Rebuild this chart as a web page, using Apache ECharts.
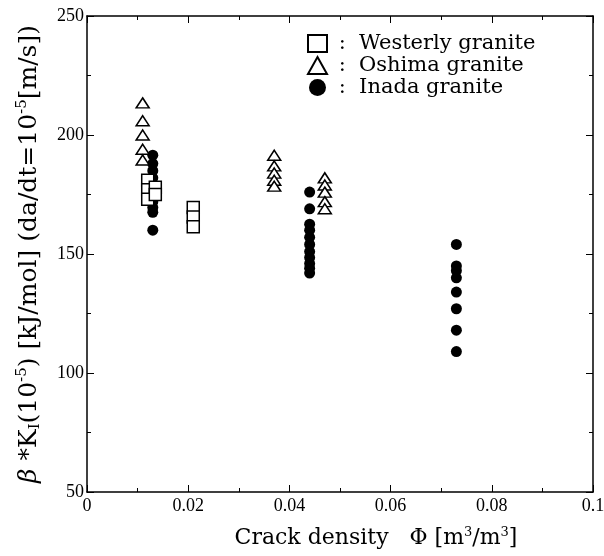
<!DOCTYPE html>
<html>
<head>
<meta charset="utf-8">
<script src="https://cdn.jsdelivr.net/npm/echarts@6/dist/echarts.min.js"></script>
<style>
html, body { margin: 0; padding: 0; background: #fff; }
#chart { width: 604px; height: 556px; }
</style>
</head>
<body>
<div id="chart"></div>
<script>
// crack density / activation value pairs
var westerly = [
    [0.012, 181], [0.012, 177], [0.012, 173],
    [0.0135, 178], [0.0135, 175],
    [0.021, 169.5], [0.021, 165.5], [0.021, 161.5]
];
var oshima = [
    [0.011, 213.5], [0.011, 206], [0.011, 200], [0.011, 194], [0.011, 189.5],
    [0.037, 191.5], [0.037, 187], [0.037, 184], [0.037, 181], [0.037, 178.5],
    [0.047, 182], [0.047, 179], [0.047, 176], [0.047, 172], [0.047, 169]
];
var inada = [
    [0.013, 191.5], [0.013, 188], [0.013, 185], [0.013, 182], [0.013, 179], [0.013, 176],
    [0.013, 174], [0.013, 172], [0.013, 169.5], [0.013, 167.5], [0.013, 160],
    [0.044, 176], [0.044, 169], [0.044, 162.5], [0.044, 160], [0.044, 157], [0.044, 154],
    [0.044, 151], [0.044, 148.5], [0.044, 146], [0.044, 144], [0.044, 142],
    [0.073, 154], [0.073, 145], [0.073, 143], [0.073, 140], [0.073, 134],
    [0.073, 127], [0.073, 118], [0.073, 109]
];
var legendNames = ['Westerly granite', 'Oshima granite', 'Inada granite'];

var serif = 'Liberation Serif';
var wide = 'DejaVu Serif';
var myChart = echarts.init(document.getElementById('chart'));

var frameTick = { show: true, inside: true, length: 7, lineStyle: { color: '#000', width: 1 } };
var frameMinor = { show: true, splitNumber: 2, length: 4, lineStyle: { color: '#000', width: 1 } };
var frameLine = { show: true, onZero: false, lineStyle: { color: '#000', width: 1.5 } };

var option = {
    animation: false,
    backgroundColor: '#fff',
    grid: { left: 87, right: 11, top: 16, bottom: 64, outerBoundsMode: 'none', containLabel: false },
    legend: {
        orient: 'vertical',
        left: 302,
        top: 28,
        itemGap: 1,
        itemWidth: 19,
        itemHeight: 17,
        data: legendNames,
        formatter: function (name) { return ' :  ' + name; },
        textStyle: { fontFamily: wide, fontSize: 21, color: '#000' }
    },
    xAxis: [{
        type: 'value',
        min: 0,
        max: 0.1,
        interval: 0.02,
        name: 'Crack density   Φ [m{sup|3}/m{sup|3}]',
        nameLocation: 'middle',
        nameGap: 34,
        nameTextStyle: {
            fontFamily: wide, fontSize: 22, color: '#000', padding: [0, 0, 0, 72],
            rich: { sup: { fontFamily: wide, fontSize: 13, verticalAlign: 'top', padding: [0, 0, 12, 0] } }
        },
        axisLine: frameLine,
        axisTick: frameTick,
        minorTick: frameMinor,
        splitLine: { show: false },
        axisLabel: {
            fontFamily: serif, fontSize: 18, color: '#000', margin: 5,
            formatter: function (v) { return v === 0 ? '0' : String(+v.toFixed(2)); }
        }
    }, {
        type: 'value',
        position: 'top',
        min: 0,
        max: 0.1,
        interval: 0.02,
        axisLine: frameLine,
        axisTick: frameTick,
        minorTick: frameMinor,
        splitLine: { show: false },
        axisLabel: { show: false }
    }],
    yAxis: [{
        type: 'value',
        min: 50,
        max: 250,
        interval: 50,
        name: '{it|β} *K{sub|I}(10{sup|-5}) [kJ/mol] (da/dt=10{sup|-5}[m/s])',
        nameLocation: 'middle',
        nameGap: 44,
        nameTextStyle: {
            fontFamily: wide, fontSize: 25, color: '#000',
            rich: {
                it: { fontFamily: wide, fontSize: 25, fontStyle: 'italic' },
                sup: { fontFamily: wide, fontSize: 15, verticalAlign: 'top', padding: [0, 0, 13, 0] },
                sub: { fontFamily: wide, fontSize: 15, verticalAlign: 'bottom', padding: [12, 0, 0, 0] }
            }
        },
        axisLine: frameLine,
        axisTick: frameTick,
        minorTick: frameMinor,
        splitLine: { show: false },
        axisLabel: { fontFamily: serif, fontSize: 18, color: '#000', margin: 3 }
    }, {
        type: 'value',
        position: 'right',
        min: 50,
        max: 250,
        interval: 50,
        axisLine: frameLine,
        axisTick: frameTick,
        minorTick: frameMinor,
        splitLine: { show: false },
        axisLabel: { show: false }
    }],
    series: [{
        name: 'Inada granite',
        type: 'scatter',
        symbol: 'circle',
        symbolSize: 11,
        itemStyle: { color: '#000', opacity: 1 },
        data: inada
    }, {
        name: 'Westerly granite',
        type: 'scatter',
        symbol: 'rect',
        symbolSize: 12,
        itemStyle: { color: '#fff', borderColor: '#000', borderWidth: 1.5, opacity: 1 },
        data: westerly
    }, {
        name: 'Oshima granite',
        type: 'scatter',
        symbol: 'triangle',
        symbolSize: [13, 10],
        itemStyle: { color: '#fff', borderColor: '#000', borderWidth: 1.5, opacity: 1 },
        data: oshima
    }]
};

myChart.setOption(option);
</script>
</body>
</html>
